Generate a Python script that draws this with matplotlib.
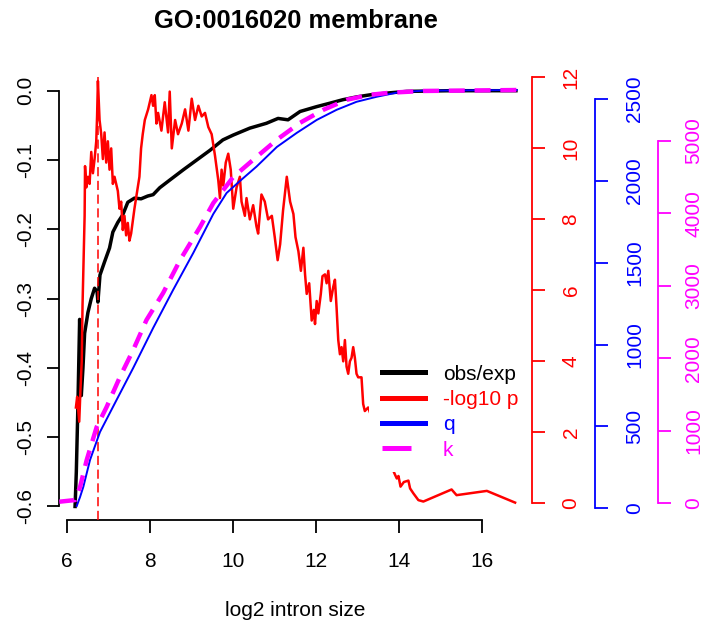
import matplotlib
matplotlib.use("Agg")
import matplotlib.pyplot as plt
from matplotlib.lines import Line2D

plt.rcParams["font.family"] = ["Liberation Sans", "DejaVu Sans"]
plt.rcParams["axes.unicode_minus"] = False

# obs/exp (left axis)
obs_x = [6.19, 6.22, 6.26, 6.30, 6.34, 6.38, 6.42, 6.50, 6.58, 6.66, 6.72, 6.74,
         6.79, 6.90, 7.02, 7.10, 7.22, 7.34, 7.46, 7.62, 7.78, 7.94, 8.07, 8.23,
         8.47, 8.80, 9.12, 9.44, 9.75, 10.00, 10.40, 10.80, 11.08, 11.32, 11.61,
         12.01, 12.33, 12.64, 12.97, 13.29, 13.78, 14.18, 15.22, 16.81]
obs_y = [-0.600, -0.55, -0.45, -0.33, -0.44, -0.40, -0.35, -0.32, -0.30, -0.285,
         -0.29, -0.305, -0.266, -0.247, -0.227, -0.204, -0.190, -0.179, -0.161,
         -0.155, -0.156, -0.152, -0.150, -0.140, -0.129, -0.114, -0.100, -0.086,
         -0.071, -0.064, -0.054, -0.047, -0.040, -0.042, -0.030, -0.023, -0.018,
         -0.013, -0.009, -0.006, -0.003, -0.001, 0.0, 0.0]

# -log10 p (red axis)
p_x = [6.21, 6.24, 6.27, 6.29, 6.32, 6.35, 6.37, 6.39, 6.42, 6.43, 6.46, 6.50,
       6.54, 6.58, 6.62, 6.66, 6.70, 6.72, 6.74, 6.78, 6.82, 6.86, 6.90, 6.94,
       6.98, 7.02, 7.06, 7.10, 7.14, 7.22, 7.26, 7.30, 7.34, 7.38, 7.42, 7.46,
       7.50, 7.54, 7.62, 7.70, 7.74, 7.78, 7.82, 7.87, 7.95, 8.03, 8.07, 8.11,
       8.15, 8.19, 8.27, 8.35, 8.43, 8.47, 8.52, 8.60, 8.67, 8.76, 8.84, 8.92,
       9.00, 9.08, 9.16, 9.24, 9.32, 9.40, 9.48, 9.56, 9.64, 9.68, 9.72, 9.76,
       9.82, 9.88, 9.94, 10.00, 10.08, 10.16, 10.20, 10.28, 10.32, 10.40, 10.48,
       10.56, 10.60, 10.68, 10.76, 10.84, 10.93, 11.00, 11.07, 11.13, 11.20,
       11.29, 11.37, 11.45, 11.50, 11.57, 11.63, 11.69, 11.73, 11.77, 11.83,
       11.89, 11.94, 11.97, 12.01, 12.05, 12.11, 12.15, 12.21, 12.25, 12.29,
       12.35, 12.41, 12.45, 12.49, 12.53, 12.57, 12.61, 12.65, 12.69, 12.73,
       12.77, 12.81, 12.85, 12.89, 12.93, 12.97, 13.01, 13.09, 13.13, 13.17,
       13.25, 13.53, 13.90, 13.94, 13.98, 14.03, 14.11, 14.22, 14.26, 14.34,
       14.46, 14.58, 15.26, 15.38, 16.11, 16.79]
p_y = [2.7, 3.0, 2.6, 2.3, 3.2, 4.0, 5.6, 6.6, 8.1, 9.5, 8.9, 9.2, 9.0, 9.9, 9.3,
       9.7, 10.2, 10.9, 11.9, 10.8, 10.4, 9.7, 10.45, 9.6, 10.2, 9.4, 10.0, 9.0,
       9.2, 8.8, 8.3, 8.5, 7.7, 8.1, 7.55, 7.9, 7.4, 7.6, 8.3, 8.9, 9.2, 10.0,
       10.4, 10.8, 11.1, 11.5, 11.2, 11.5, 10.7, 11.0, 10.5, 11.3, 10.45, 11.6,
       10.0, 10.8, 10.4, 10.7, 11.1, 10.5, 11.4, 10.8, 11.2, 10.9, 11.0, 10.6,
       10.4, 9.8, 9.1, 8.6, 9.4, 8.95, 9.6, 9.85, 9.4, 8.3, 8.9, 9.2, 8.5, 8.1,
       8.6, 8.0, 8.4, 7.8, 7.6, 8.7, 8.5, 8.0, 8.1, 7.5, 6.85, 7.3, 8.25, 9.2,
       8.5, 8.15, 7.5, 7.1, 6.55, 7.2, 6.45, 5.9, 6.2, 5.15, 5.45, 5.05, 5.7,
       5.35, 5.9, 6.4, 6.45, 6.2, 6.55, 5.7, 6.1, 6.3, 5.5, 4.6, 4.2, 4.4, 4.0,
       4.6, 3.85, 3.65, 4.0, 4.1, 4.4, 4.1, 3.65, 3.55, 3.55, 2.8, 2.6, 2.7, 1.8,
       0.8, 0.7, 0.77, 0.47, 0.6, 0.64, 0.42, 0.28, 0.09, 0.05, 0.39, 0.23, 0.35,
       0.02]
p_peak = 6.74

# q (blue axis)
q_x = [6.23, 6.31, 6.39, 6.55, 6.79, 7.19, 7.59, 8.07, 8.55, 9.04, 9.52, 9.84,
       10.16, 10.56, 11.05, 11.53, 12.01, 12.49, 12.97, 13.46, 13.94, 14.58, 16.83]
q_y = [14, 69, 132, 295, 466, 662, 857, 1101, 1333, 1561, 1798, 1926, 1999, 2087,
       2207, 2293, 2372, 2434, 2483, 2514, 2539, 2551, 2555]

# k (magenta axis)
k_x = [5.81, 6.19, 6.31, 6.47, 6.71, 6.95, 7.27, 7.59, 7.91, 8.31, 8.72, 9.20,
       9.52, 10.00, 10.56, 11.05, 11.61, 12.17, 12.73, 13.29, 13.78, 14.58, 16.83]
k_y = [22, 45, 225, 597, 1052, 1328, 1741, 2114, 2527, 2899, 3354, 3809, 4140,
       4499, 4775, 5012, 5246, 5425, 5563, 5632, 5661, 5685, 5698]

labels = ["obs/exp", "-log10 p", "q", "k"]
colors = ["black", "red", "blue", "magenta"]

FS = 15
fig = plt.figure(figsize=(7.05, 6.3), dpi=100)
ax = fig.add_axes([59.3 / 705, 1 - 520 / 630, 472.4 / 705, 442.6 / 630])
ax_r = ax.twinx()
ax_b = ax.twinx()
ax_m = ax.twinx()

ax.plot(obs_x, obs_y, color="black", lw=2.5)
ax_r.plot(p_x, p_y, color="red", lw=1.8)
ax_r.axvline(p_peak, color="red", lw=1.1, dashes=(6, 3))
ax_b.plot(q_x, q_y, color="blue", lw=1.4)
ax_m.plot(k_x, k_y, color="magenta", lw=3.2, dashes=(3.6, 2.2))

ax.set_xlim(5.81, 17.19)
ax.set_ylim(-0.6195, 0.0192)
ax_r.set_ylim(-0.47, 11.98)
ax_b.set_ylim(-71.5, 2632)
ax_m.set_ylim(-230, 5872)

for a in (ax, ax_r, ax_b, ax_m):
    for s in a.spines.values():
        s.set_visible(False)
    a.patch.set_visible(False)

ax.spines["left"].set_visible(True)
ax.spines["bottom"].set_visible(True)
ax.spines["left"].set_bounds(-0.6, 0.0)
ax.spines["bottom"].set_bounds(6, 16)
ax.spines["left"].set_linewidth(1.3)
ax.spines["bottom"].set_linewidth(1.3)

ax.set_xticks([6, 8, 10, 12, 14, 16])
ax.set_xticklabels(["6", "8", "10", "12", "14", "16"])
ax.set_yticks([-0.6, -0.5, -0.4, -0.3, -0.2, -0.1, 0.0])
ax.set_yticklabels(["-0.6", "-0.5", "-0.4", "-0.3", "-0.2", "-0.1", "0.0"])
ax.tick_params(axis="x", length=9, width=1.3, labelsize=FS, pad=14)
ax.tick_params(axis="y", length=9, width=1.3, labelsize=FS, pad=8.5,
               labelrotation=90)
for t in ax.yaxis.get_major_ticks():
    t.label1.set_va("center")

right_axes = [
    (ax_r, "red", 0, [0, 2, 4, 6, 8, 10, 12], (0, 12), 12.5),
    (ax_b, "blue", 45.6, [0, 500, 1000, 1500, 2000, 2500], (0, 2500), 12.5),
    (ax_m, "magenta", 91.2, [0, 1000, 2000, 3000, 4000, 5000], (0, 5000), 9.5),
]
for a, c, off, ticks, bounds, pad in right_axes:
    sp = a.spines["right"]
    sp.set_visible(True)
    sp.set_position(("outward", off))
    sp.set_bounds(*bounds)
    sp.set_color(c)
    sp.set_linewidth(1.3)
    a.set_yticks(ticks)
    a.set_yticklabels([str(v) for v in ticks])
    a.tick_params(axis="y", colors=c, length=9, width=1.3, labelsize=FS,
                  pad=pad, labelrotation=90)
    for t in a.yaxis.get_major_ticks():
        t.label2.set_va("center")

fig.text(295.5 / 705, 1 - 21 / 630, "GO:0016020 membrane", ha="center",
         va="center", fontsize=18.4, fontweight="bold")
fig.text(295.5 / 705, 1 - 610 / 630, "log2 intron size", ha="center",
         va="center", fontsize=FS)

handles = [Line2D([], [], color=c, lw=3.6) for c in colors[:3]]
handles.append(Line2D([], [], color="magenta", lw=3.6, dashes=(5.8, 3)))
leg = ax_m.legend(handles, labels, loc="lower right",
                  bbox_to_anchor=(531 / 705, 1 - 472 / 630),
                  bbox_transform=fig.transFigure, borderaxespad=0,
                  fontsize=FS, labelcolor=colors, handlelength=2.1,
                  handletextpad=0.85, labelspacing=0.3, borderpad=0.6,
                  fancybox=False, frameon=True, facecolor="white",
                  edgecolor="none", framealpha=1)

fig.savefig("out.png", dpi=100)
